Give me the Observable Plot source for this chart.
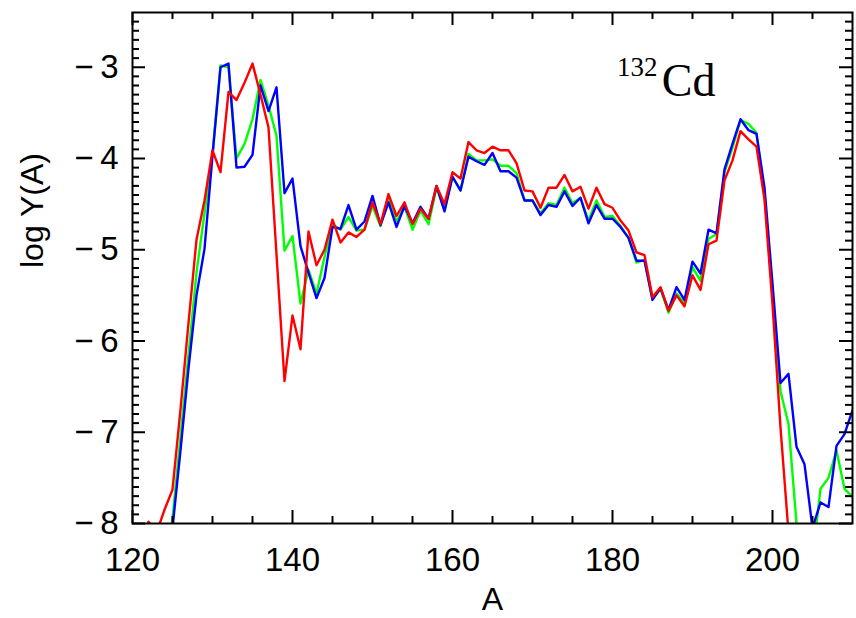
<!DOCTYPE html>
<html>
<head>
<meta charset="utf-8">
<script src="https://cdn.jsdelivr.net/npm/d3@7"></script>
<script src="https://cdn.jsdelivr.net/npm/@observablehq/plot@0.6"></script>
<style>
  html, body { margin: 0; padding: 0; background: #fff; }
</style>
</head>
<body>
<div id="chart"></div>
<script>
// Mass numbers A (x values)
const massNumbers = d3.range(121, 211);

// log Y(A) for the three curves (null = not drawn)
const redSeries = [
  -8.3, -7.98, -8.1, -7.85, -7.63, -6.75, -5.8, -4.89, -4.46, -3.91,
  -4.15, -3.27, -3.36, -3.17, -2.96, -3.3, -3.66, -5.05, -6.44, -5.72,
  -6.09, -4.8, -5.17, -5.0, -4.67, -4.92, -4.81, -4.86, -4.78, -4.48,
  -4.72, -4.39, -4.63, -4.48, -4.72, -4.55, -4.66, -4.30, -4.50, -4.15,
  -4.22, -3.82, -3.91, -3.94, -3.87, -3.91, -3.91, -4.05, -4.35, -4.36,
  -4.54, -4.32, -4.32, -4.18, -4.36, -4.31, -4.55, -4.32, -4.50, -4.54,
  -4.68, -4.79, -5.03, -5.06, -5.52, -5.41, -5.67, -5.50, -5.62, -5.28,
  -5.44, -4.94, -4.90, -4.24, -4.02, -3.70, -3.79, -3.87, -4.45, -5.6,
  -6.95, -8.1, null, null, null, null, null, null, null, null
];
const greenSeries = [
  null, null, null, -8.5, -7.95, -7.05, -6.15, -5.25, -4.6, -3.95,
  -2.98, -3.0, -4.0, -3.84, -3.57, -3.14, -3.42, -3.75, -5.01, -4.85,
  -5.59, -5.22, -5.48, -5.08, -4.72, -4.78, -4.64, -4.79, -4.78, -4.52,
  -4.74, -4.45, -4.69, -4.53, -4.78, -4.57, -4.72, -4.32, -4.56, -4.2,
  -4.35, -3.95, -4.02, -4.02, -4.01, -4.08, -4.08, -4.16, -4.46, -4.46,
  -4.6, -4.49, -4.51, -4.32, -4.49, -4.43, -4.68, -4.46, -4.64, -4.63,
  -4.74, -4.87, -5.14, -5.11, -5.54, -5.43, -5.69, -5.48, -5.58, -5.19,
  -5.34, -4.88, -4.83, -4.15, -3.88, -3.58, -3.62, -3.72, -4.4, -5.45,
  -6.55, -6.91, -8.0, -8.6, -8.38, -7.62, -7.5, -7.2, -7.62, -7.71
];
const blueSeries = [
  null, null, null, -8.8, -8.05, -7.2, -6.3, -5.5, -4.99, -3.97,
  -3.0, -2.96, -4.1, -4.09, -3.96, -3.2, -3.48, -3.22, -4.38, -4.22,
  -4.96, -5.25, -5.53, -5.31, -4.75, -4.77, -4.51, -4.78, -4.69, -4.41,
  -4.73, -4.48, -4.75, -4.52, -4.71, -4.53, -4.66, -4.3, -4.58, -4.2,
  -4.35, -3.98, -4.03, -4.07, -3.94, -4.14, -4.14, -4.21, -4.46, -4.46,
  -4.62, -4.51, -4.53, -4.36, -4.52, -4.43, -4.71, -4.51, -4.66, -4.66,
  -4.75, -4.87, -5.12, -5.12, -5.55, -5.42, -5.66, -5.41, -5.55, -5.13,
  -5.26, -4.78, -4.82, -4.12, -3.84, -3.57, -3.69, -3.73, -4.32, -5.37,
  -6.46, -6.36, -7.16, -7.35, -8.05, -7.77, -7.82, -7.15, -7.02, -6.76
];

// Tick values and labels
const xDomain = [120, 210];
const yDomain = [-8, -2.4];
const xMajorTicks = [120, 140, 160, 180, 200];
const xMinorTicks = [125, 130, 135, 145, 150, 155, 165, 170, 175, 185, 190, 195, 205];
const yMajorTicks = [-8, -7, -6, -5, -4, -3];
const yMinorTicks = d3.range(-79, -24).map(d => d / 10).filter(d => !Number.isInteger(d));
const xLabel = "A";
const yLabel = "log Y(A)";
const titleMass = "132";
const titleElement = "Cd";

const seriesColors = {red: "#ff0000", green: "#00ff00", blue: "#0000ff"};

const toRows = (vals, name) => massNumbers.map((a, i) => ({A: a, v: vals[i], s: name}));
const greenRows = toRows(greenSeries, "green");
const blueRows = toRows(blueSeries, "blue");
const redRows = toRows(redSeries, "red");

const W = 856, H = 618, mL = 132, mR = 4, mT = 12, mB = 95;
const fw = W - mL - mR, fh = H - mT - mB;
const majorLen = 13, minorLen = 7;
// pixel lengths expressed in data units (for inward ticks)
const xPerPx = (xDomain[1] - xDomain[0]) / fw;
const yPerPx = (yDomain[1] - yDomain[0]) / fh;

const lineOpts = (color) => ({x: "A", y: "v", stroke: color, strokeWidth: 2.4, clip: true, defined: d => d.v != null, curve: "linear"});

const tickStyle = {stroke: "#000", strokeWidth: 2};
const leftTicks = (vals, len) => Plot.ruleY(vals, {y: d => d, x1: () => xDomain[0], x2: () => xDomain[0] + len * xPerPx, ...tickStyle});
const rightTicks = (vals, len) => Plot.ruleY(vals, {y: d => d, x1: () => xDomain[1] - len * xPerPx, x2: () => xDomain[1], ...tickStyle});
const bottomTicks = (vals, len) => Plot.ruleX(vals, {x: d => d, y1: () => yDomain[0], y2: () => yDomain[0] + len * yPerPx, ...tickStyle});
const topTicks = (vals, len) => Plot.ruleX(vals, {x: d => d, y1: () => yDomain[1] - len * yPerPx, y2: () => yDomain[1], ...tickStyle});

const chart = Plot.plot({
  width: W, height: H,
  marginLeft: mL, marginRight: mR, marginTop: mT, marginBottom: mB,
  x: {domain: xDomain},
  y: {domain: yDomain},
  style: {fontFamily: "'Liberation Sans', Arial, sans-serif", background: "#fff", color: "#000"},
  marks: [
    Plot.line(greenRows, lineOpts(seriesColors.green)),
    Plot.line(blueRows, lineOpts(seriesColors.blue)),
    Plot.line(redRows, lineOpts(seriesColors.red)),
    leftTicks(yMinorTicks, minorLen), leftTicks(yMajorTicks, majorLen),
    rightTicks(yMinorTicks, minorLen), rightTicks(yMajorTicks, majorLen),
    bottomTicks(xMinorTicks, minorLen), bottomTicks(xMajorTicks, majorLen),
    topTicks(xMinorTicks, minorLen), topTicks(xMajorTicks, majorLen),
    Plot.frame({stroke: "#000", strokeWidth: 2}),
    // tick labels
    Plot.axisX({ticks: xMajorTicks, tickSize: 0, tickPadding: 24, fontSize: 33, label: null, tickFormat: d => String(d)}),
    Plot.axisY({ticks: yMajorTicks, tickSize: 0, tickPadding: 14, fontSize: 33, label: null, tickFormat: d => "\u2212\u2009" + Math.abs(d)}),
    // axis titles
    Plot.text([xLabel], {text: d => d, frameAnchor: "bottom", dy: 76, fontSize: 32, lineAnchor: "middle"}),
    Plot.text([yLabel], {text: d => d, frameAnchor: "left", dx: -100, rotate: -90, fontSize: 32, lineAnchor: "middle"}),
    // nucleus label
    Plot.text([titleElement], {text: d => d, frameAnchor: "top-right", dx: -137, dy: 83, textAnchor: "end", lineAnchor: "bottom", fontSize: 46, fontFamily: "'Liberation Serif', 'Times New Roman', serif"}),
    Plot.text([titleMass], {text: d => d, frameAnchor: "top-right", dx: -195, dy: 63, textAnchor: "end", lineAnchor: "bottom", fontSize: 27, fontFamily: "'Liberation Serif', 'Times New Roman', serif"})
  ]
});
document.getElementById("chart").appendChild(chart);
</script>
</body>
</html>
